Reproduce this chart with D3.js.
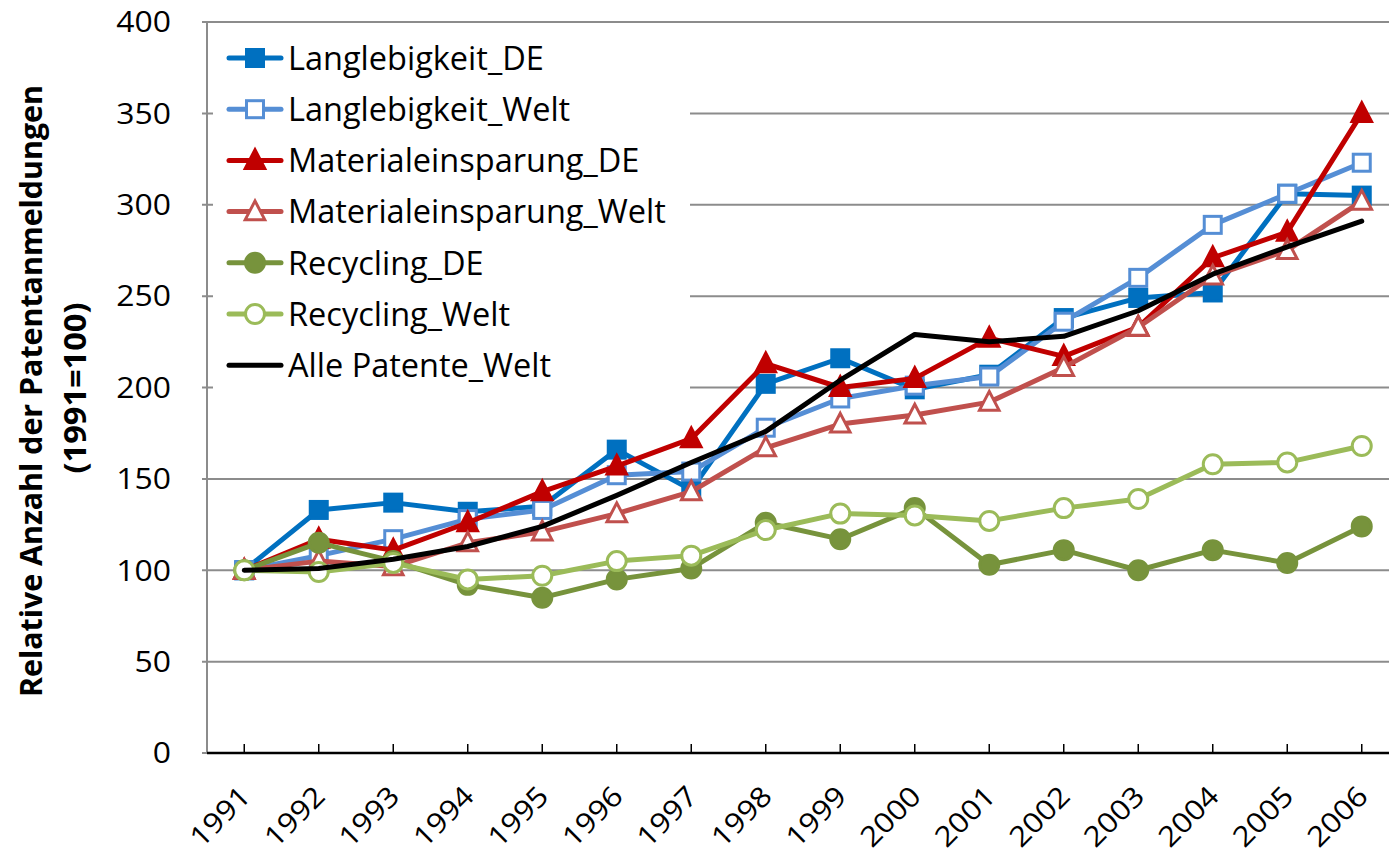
<!DOCTYPE html>
<html><head><meta charset="utf-8">
<script src="https://cdn.jsdelivr.net/npm/d3@7"></script>
<style>body{margin:0;background:#fff;} svg{display:block;}</style>
</head><body>
<svg id="chart" width="1389" height="855"></svg>
<script>
const years = ["1991","1992","1993","1994","1995","1996","1997","1998","1999","2000","2001","2002","2003","2004","2005","2006"];
const yTicks = [0,50,100,150,200,250,300,350,400];
const langDE   = [100,133,137,132,135,166,144,202,216,199,207,238,249,252,306,305];
const langWelt = [100,108,117,128,133,152,154,178,194,201,206,236,260,289,306,323];
const matDE    = [100,117,111,126,143,157,172,213,200,205,227,217,233,271,285,350];
const matWelt  = [100,105,102,115,121,131,143,167,180,185,192,211,233,261,275,302];
const recDE    = [100,115,105,92,85,95,101,126,117,134,103,111,100,111,104,124];
const recWelt  = [100,99,104,95,97,105,108,122,131,130,127,134,139,158,159,168];
const alleWelt = [100,101,106,113,124,141,159,176,204,229,225,228,242,262,277,291];

const series = [
  {name:"Langlebigkeit_DE", values:langDE, color:"#0070C0", marker:"square", fill:true},
  {name:"Langlebigkeit_Welt", values:langWelt, color:"#558ED5", marker:"square", fill:false},
  {name:"Materialeinsparung_DE", values:matDE, color:"#C00000", marker:"triangle", fill:true},
  {name:"Materialeinsparung_Welt", values:matWelt, color:"#C0504D", marker:"triangle", fill:false},
  {name:"Recycling_DE", values:recDE, color:"#77933C", marker:"circle", fill:true},
  {name:"Recycling_Welt", values:recWelt, color:"#9BBB59", marker:"circle", fill:false},
  {name:"Alle Patente_Welt", values:alleWelt, color:"#000000", marker:null, fill:true}
];

const svg = d3.select("#chart");
const pL = 207, pR = 1399, pT = 22, pB = 753;
const x = d3.scalePoint().domain(years).range([pL, pR]).padding(0.5);
const y = d3.scaleLinear().domain([0,400]).range([pB, pT]);
const FONT = "'Open Sans', sans-serif";

// gridlines
svg.append("g").selectAll("line").data(yTicks.filter(d=>d>0)).join("line")
  .attr("x1", pL-5).attr("x2", pR).attr("y1", d=>y(d)).attr("y2", d=>y(d))
  .attr("stroke", "#8c8c8c").attr("stroke-width", 2);
// left axis line
svg.append("line").attr("x1", pL).attr("x2", pL).attr("y1", pT).attr("y2", pB)
  .attr("stroke", "#8c8c8c").attr("stroke-width", 2);
svg.append("line").attr("x1", pL-5).attr("x2", pL).attr("y1", pB).attr("y2", pB)
  .attr("stroke", "#8c8c8c").attr("stroke-width", 2);

// y tick labels
svg.append("g").selectAll("text").data(yTicks).join("text")
  .attr("transform", d=>`translate(171,${y(d)}) scale(1.12,1)`)
  .attr("dy", "0.36em")
  .attr("text-anchor", "end").attr("font-family", FONT).attr("font-size", 28.5)
  .attr("fill", "#000").text(d=>d);

// x axis
svg.append("line").attr("x1", pL).attr("x2", pR).attr("y1", pB).attr("y2", pB)
  .attr("stroke", "#000").attr("stroke-width", 2.5);
svg.append("g").selectAll("line").data(years).join("line")
  .attr("x1", d=>x(d)).attr("x2", d=>x(d)).attr("y1", pB-9).attr("y2", pB)
  .attr("stroke", "#000").attr("stroke-width", 1.5);
svg.append("g").selectAll("text").data(years).join("text")
  .attr("transform", d=>`translate(${x(d)+8},${pB+45}) rotate(-45) scale(1.12,1)`)
  .attr("text-anchor", "end").attr("font-family", FONT).attr("font-size", 28)
  .attr("fill", "#000").text(d=>d);

// y axis title
const tg = svg.append("g").attr("font-family", FONT).attr("font-weight", "bold").attr("fill", "#000");
tg.append("text").attr("transform", "translate(42,391) rotate(-90)").attr("text-anchor", "middle")
  .attr("font-size", 31).attr("textLength", 612).attr("lengthAdjust", "spacingAndGlyphs")
  .text("Relative Anzahl der Patentanmeldungen");
tg.append("text").attr("transform", "translate(86,388) rotate(-90)").attr("text-anchor", "middle")
  .attr("font-size", 31).attr("textLength", 171).attr("lengthAdjust", "spacingAndGlyphs")
  .text("(1991=100)");

function drawMarker(g, type, cx, cy, color, fill, size) {
  if (type === "square") {
    g.append("rect").attr("x", cx-size/2).attr("y", cy-size/2).attr("width", size).attr("height", size)
      .attr("fill", fill ? color : "#fff").attr("stroke", color).attr("stroke-width", 3);
  } else if (type === "triangle") {
    const h = size*1.05, w = size*1.15;
    g.append("path").attr("d", `M${cx},${cy-h*0.6}L${cx+w/2},${cy+h*0.45}L${cx-w/2},${cy+h*0.45}Z`)
      .attr("fill", fill ? color : "#fff").attr("stroke", color).attr("stroke-width", 3).attr("stroke-linejoin","miter");
  } else if (type === "circle") {
    g.append("circle").attr("cx", cx).attr("cy", cy).attr("r", size/2)
      .attr("fill", fill ? color : "#fff").attr("stroke", color).attr("stroke-width", 3);
  }
}

const line = d3.line().x((d,i)=>x(years[i])).y(d=>y(d));
const plot = svg.append("g");
series.forEach(s => {
  plot.append("path").attr("d", line(s.values)).attr("fill", "none")
    .attr("stroke", s.color).attr("stroke-width", 5).attr("stroke-linejoin", "round").attr("stroke-linecap", "round");
  if (s.marker) {
    const mg = plot.append("g");
    s.values.forEach((v,i) => drawMarker(mg, s.marker, x(years[i]), y(v), s.color, s.fill, s.marker==="circle"?19:17));
  }
});

// legend
const lg = svg.append("g");
lg.append("rect").attr("x", 213).attr("y", 24).attr("width", 477).attr("height", 370).attr("fill", "#fff");
series.forEach((s,i) => {
  const cy = 58 + i*51.2;
  lg.append("line").attr("x1", 229).attr("x2", 281).attr("y1", cy).attr("y2", cy)
    .attr("stroke", s.color).attr("stroke-width", 5).attr("stroke-linecap", "round");
  if (s.marker) drawMarker(lg, s.marker, 255, cy, s.color, s.fill, s.marker==="circle"?19:17);
  lg.append("text").attr("x", 288).attr("y", cy).attr("dy", "0.36em")
    .attr("font-family", FONT).attr("font-size", 32.5).attr("fill", "#000").text(s.name);
});
// top border line
svg.append("line").attr("x1", pL).attr("x2", pR).attr("y1", pT).attr("y2", pT)
  .attr("stroke", "#8c8c8c").attr("stroke-width", 2);
</script>
</body></html>
